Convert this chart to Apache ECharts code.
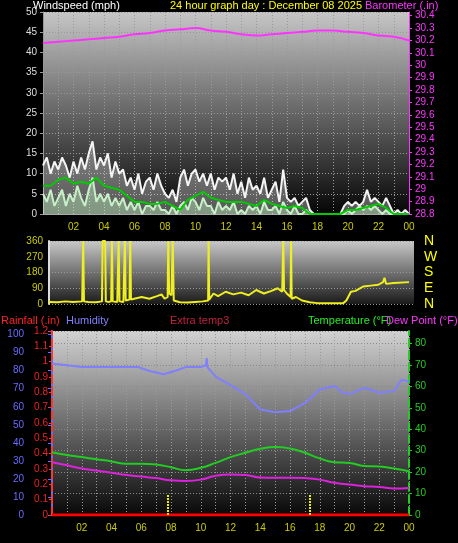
<!DOCTYPE html>
<html><head><meta charset="utf-8">
<script src="https://cdn.jsdelivr.net/npm/echarts@6/dist/echarts.min.js"></script>
<style>html,body{margin:0;padding:0;background:#000}#c{width:458px;height:543px}</style>
</head><body><div id="c"></div>
<script>
// ---- data ----
const hourTicks = ['00','01','02','03','04','05','06','07','08','09','10','11','12','13','14','15','16','17','18','19','20','21','22','23','00'];
// wind at 15-min steps (0..24h)
const windGust = [12,14,10,13, 11,14,12,9, 13,10,14,11, 15,18,11,14, 12,15,9,13, 10,11,7,9, 6,10,5,8, 9,6,10,7, 5,4,6,3, 9,11,7,10, 11,8,10,7, 10,6,9,8, 9,6,10,5, 8,4,9,6, 7,5,9,4, 6,8,3,11, 4,3,4,2, 3,4,1,0, 0,0,0,0, 0,0,0,2, 3,2,3,2, 3,6,3,4, 3,2,4,2, 0,1,0,1, 0];
const windSpeed = [5,3,6,2, 4,6,2,5, 3,7,4,2, 6,9,3,5, 3,5,2,4, 2,4,1,3, 1,3,0,2, 2,1,3,1, 1,0,2,0, 2,3,1,4, 3,1,4,2, 2,0,3,1, 2,1,3,0, 1,0,2,1, 2,0,3,1, 1,2,0,3, 1,0,2,0, 0,1,0,0, 0,0,0,0, 0,0,0,0, 1,0,1,2, 1,2,1,2, 1,0,1,0, 0,0,0,0, 0];
// 30-min steps
const windAvg = [7,7,8.5,9,7.5,8,7.5,9,7,6.5,6,4.5,3,3,2.5,2.5,3,2,1,3.5,4.5,5.5,4,3.5,3,3,3,2.5,2,3.5,2.5,2,1.5,2,1.5,0,0,0,0,0,1,1,1.5,2,2.5,1.5,0,0,0];
// hourly
const barometer = [30.18,30.19,30.2,30.21,30.22,30.23,30.25,30.26,30.28,30.29,30.3,30.28,30.27,30.25,30.24,30.25,30.26,30.27,30.28,30.28,30.27,30.26,30.24,30.23,30.2];
const dirHours = [0,0.5,1,1.5,2,2.6,2.67,2.72,3,3.5,3.9,3.94,4.11,4.15,4.3,4.5,4.55,4.6,4.9,4.99,5.05,5.3,5.4,5.45,5.7,5.75,5.8,6,6.5,7,7.5,7.8,8,8.2,8.24,8.3,8.45,8.53,8.6,9,9.5,10,10.5,10.85,10.88,10.92,11.2,11.5,12,12.5,13,13.5,14,14.5,15,15.4,15.7,15.77,15.82,16,16.25,16.28,16.32,16.6,17,17.5,18,19,19.7,19.9,20.2,20.5,21,21.5,22,22.3,22.4,22.5,23,24];
const dirValues = [10,12,10,15,12,15,360,15,12,10,15,360,360,15,12,15,360,15,12,360,15,12,360,20,25,360,25,30,40,30,45,55,30,40,360,60,50,360,20,10,8,12,15,20,360,25,60,45,70,55,65,50,80,60,75,90,70,360,80,60,40,360,30,40,20,10,5,5,5,20,70,75,100,105,110,125,150,115,120,125];
const humidity = [84,83,82,82,82,82,82,80,78,80,82,82,83,87,82,76.7,72,67,58.5,57,57.6,62,69.6,71.5,68,67,70.5,67.8,68.7,75,74];
const humHours = [0,1,2,3,4,5,5.8,6.5,7.5,8.3,9,10,10.35,10.4,10.45,11,12,13,14,15,16,17,18,19,19.5,20,21,22,23,23.5,24];
const temperature = [29.3,28,27,26,25,23.9,23.9,23.5,22.3,20.9,22,24.3,27,29,30.9,31.7,31,29,26.4,24.6,24.3,22.8,22.6,21.7,20.4];
const dewPoint = [24.6,23.2,21.7,20.7,19.7,18.6,17.9,17.2,16.2,15.9,16.5,18.3,18.9,18.7,17.5,17.4,17.4,17.2,16.5,15,14.2,13.4,13.1,12.3,12.6];
const rainfall = [0,0];
const rainMarks = [7.8,17.3];
const rainMarkHeight = 0.13;

// ---- build ----
const q = (arr, step) => arr.map((v,i)=>[i*step, v]);
const F = 'Liberation Sans, Arial, sans-serif';
const bg = (top, bot) => ({type:'linear',x:0,y:0,x2:0,y2:1,colorStops:[{offset:0,color:top},{offset:1,color:bot}]});
const dotted = {show:true, lineStyle:{color:'#9a9a9a', type:[1,2], width:1}};
const xFmt = v => (v%2===0 && v>0) ? hourTicks[v] : '';
const T = (x,y,t,c) => ({type:'text',left:x,top:y,style:{text:t,fill:c,font:'11px '+F}});

const chart = echarts.init(document.getElementById('c'));
chart.setOption({
  backgroundColor:'#000',
  animation:false,
  textStyle:{fontFamily:F},
  graphic:[
    T(33,0,'Windspeed (mph)','#fff'),
    T(170,0,'24 hour graph day : December 08 2025','#ffff00'),
    T(365,0,'Barometer (.in)','#ff33ff'),
    T(1,315,'Rainfall (.in)','#ff2222'),
    T(66,315,'Humidity','#8080ff'),
    T(170,315,'Extra temp3','#c0203c'),
    T(308,315,'Temperature (°F)','#22ee22'),
    T(386,315,'Dew Point (°F)','#ff33ff')
  ],
  grid:[
    {left:43,right:49,top:12,height:202,show:true,borderWidth:0,backgroundColor:bg('#c6c6c6','#050505')},
    {left:49,right:44,top:241,height:63,show:true,borderWidth:0,backgroundColor:bg('#c8c8c8','#1a1a1a')},
    {left:52,right:49,top:331,height:184,show:true,borderWidth:0,backgroundColor:bg('#d2d2d2','#080808')}
  ],
  xAxis:[
    {gridIndex:0,type:'value',min:0,max:24,interval:1,axisLine:{lineStyle:{color:'#aaa'}},axisTick:{show:false},
     axisLabel:{color:'#cccc00',fontSize:10,formatter:xFmt,margin:8},splitLine:dotted},
    {gridIndex:1,type:'value',min:0.43,max:24.33,axisLine:{show:false},axisTick:{show:false},axisLabel:{show:false},splitLine:{show:false}},
    {gridIndex:2,type:'value',min:0,max:24,interval:1,axisLine:{lineStyle:{color:'#aaa'}},axisTick:{show:false},
     axisLabel:{color:'#cccc00',fontSize:10,formatter:xFmt,margin:8},splitLine:dotted}
  ],
  yAxis:[
    {gridIndex:0,type:'value',position:'left',min:0,max:50,interval:5,axisLine:{show:true,lineStyle:{color:'#999'}},axisTick:{show:true,length:3,lineStyle:{color:'#999'}},
     axisLabel:{color:'#ddd',fontSize:10,margin:6},splitLine:dotted},
    {gridIndex:0,type:'value',position:'right',min:28.8,max:30.43,interval:0.1,axisLine:{show:true,lineStyle:{color:'#ff33ff'}},axisTick:{show:true,length:3},
     axisLabel:{color:'#ff33ff',fontSize:10,showMaxLabel:false,margin:6,formatter:v=>String(+v.toFixed(1))},splitLine:{show:false}},
    {gridIndex:1,type:'value',position:'left',min:0,max:360,interval:90,axisLine:{show:true,lineStyle:{color:'#ddd',width:2}},axisTick:{show:false},
     axisLabel:{color:'#cccc00',fontSize:10,margin:6},splitLine:{show:true,lineStyle:{color:'#999',type:[1,2]}}},
    {gridIndex:1,type:'value',position:'right',min:0,max:360,interval:90,axisLine:{show:false},axisTick:{show:false},
     axisLabel:{color:'#ffff00',fontSize:14,margin:10,formatter:v=>({0:'N',90:'E',180:'S',270:'W',360:'N'})[v]},splitLine:{show:false}},
    {gridIndex:2,type:'value',position:'left',min:0,max:102,interval:10,offset:22,axisLine:{show:true,lineStyle:{color:'#6a6aff',width:2}},axisTick:{show:true,length:4},
     axisLabel:{color:'#6a6aff',fontSize:10,margin:6,formatter:v=>v>100?'':v},splitLine:{show:false}},
    {gridIndex:2,type:'value',position:'left',min:0,max:1.2,interval:0.1,axisLine:{show:true,lineStyle:{color:'#ff3333',type:'dashed',width:2}},axisTick:{show:true,length:3},
     axisLabel:{color:'#ee2222',fontSize:10,margin:4,formatter:v=>String(+v.toFixed(1))},splitLine:{show:false}},
    {gridIndex:2,type:'value',position:'right',min:0,max:85.8,interval:10,axisLine:{show:true,lineStyle:{color:'#22cc22',type:'dashed',width:2}},axisTick:{show:true,length:3},
     axisLabel:{color:'#22cc22',fontSize:10,margin:6,showMaxLabel:false},splitLine:{show:true,lineStyle:{color:'#888',type:[1,2]}}}
  ],
  series:[
    {type:'line',xAxisIndex:0,yAxisIndex:0,data:q(windGust,0.25),symbol:'none',lineStyle:{color:'#f4f4f4',width:2},areaStyle:{color:'rgba(235,235,235,0.5)'}},
    {type:'line',xAxisIndex:0,yAxisIndex:0,data:q(windSpeed,0.25),symbol:'none',lineStyle:{color:'#c8f0c8',width:2},areaStyle:{color:'rgba(190,240,190,0.6)'}},
    {type:'line',xAxisIndex:0,yAxisIndex:0,data:q(windAvg,0.5),symbol:'none',lineStyle:{color:'#00cc00',width:2}},
    {type:'line',xAxisIndex:0,yAxisIndex:1,data:q(barometer,1),symbol:'none',smooth:true,lineStyle:{color:'#ff33ff',width:2}},
    {type:'line',xAxisIndex:1,yAxisIndex:2,data:dirHours.map((h,i)=>[h,dirValues[i]]),symbol:'none',lineStyle:{color:'#eeee22',width:2}},
    {type:'line',xAxisIndex:2,yAxisIndex:4,data:humHours.map((h,i)=>[h,humidity[i]]),symbol:'none',lineStyle:{color:'#7f7fff',width:2}},
    {type:'line',xAxisIndex:2,yAxisIndex:6,data:q(temperature,1),symbol:'none',smooth:true,lineStyle:{color:'#22cc22',width:2}},
    {type:'line',xAxisIndex:2,yAxisIndex:6,data:q(dewPoint,1),symbol:'none',smooth:true,lineStyle:{color:'#dd22dd',width:2}},
    {type:'line',xAxisIndex:2,yAxisIndex:5,data:q(rainfall,24),symbol:'none',lineStyle:{color:'#ff0000',width:3},
     markLine:{symbol:'none',silent:true,label:{show:false},lineStyle:{color:'#eeee00',type:[2,1],width:2},
       data:rainMarks.map(h=>[{coord:[h,0]},{coord:[h,rainMarkHeight]}])}}
  ]
});
</script></body></html>
